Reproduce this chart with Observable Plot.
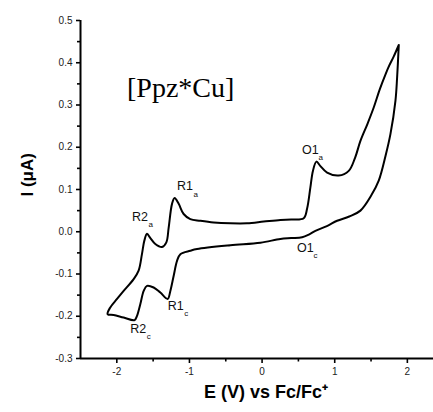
<!DOCTYPE html>
<html><head><meta charset="utf-8">
<script src="https://cdn.jsdelivr.net/npm/d3@7"></script>
<script src="https://cdn.jsdelivr.net/npm/@observablehq/plot@0.6"></script>
<style>html,body{margin:0;padding:0;background:#fff} svg{display:block}</style>
</head><body><div id="chart"></div>
<script>
// Cyclic voltammogram loop (E in V vs Fc/Fc+, I in µA), traced in scan order
const potential = [
  1.882, 1.859, 1.836, 1.767, 1.70, 1.606, 1.50, 1.354, 1.20, 1.033, 0.90, 0.734, 0.65, 0.551, 0.40, 0.252, -0.023, -0.437, -0.895, -0.988, -1.125, -1.171, -1.217, -1.263, -1.300, -1.401, -1.493, -1.584, -1.630, -1.676, -1.722, -1.755, -1.906, -2.044, -2.127,
  -2.090, -1.997, -1.906, -1.768, -1.700, -1.654, -1.621, -1.584, -1.538, -1.470, -1.377, -1.318, -1.286, -1.240, -1.204, -1.148, -1.080, -0.988, -0.850, -0.667, -0.437, -0.207, 0.022, 0.252, 0.40, 0.573, 0.62, 0.665, 0.70, 0.748, 0.80, 0.895, 1.055, 1.193, 1.28, 1.354, 1.45, 1.537, 1.62, 1.698, 1.75, 1.813, 1.882
];
const current = [
  0.442, 0.365, 0.310, 0.231, 0.180, 0.121, 0.085, 0.050, 0.036, 0.026, 0.014, 0.002, -0.006, -0.013, -0.015, -0.017, -0.026, -0.032, -0.041, -0.045, -0.053, -0.069, -0.104, -0.140, -0.159, -0.144, -0.132, -0.128, -0.140, -0.171, -0.199, -0.209, -0.203, -0.197, -0.195,
  -0.179, -0.159, -0.140, -0.112, -0.092, -0.053, -0.021, -0.005, -0.015, -0.029, -0.036, -0.025, 0.010, 0.066, 0.080, 0.066, 0.042, 0.030, 0.026, 0.022, 0.020, 0.020, 0.024, 0.028, 0.029, 0.032, 0.055, 0.105, 0.144, 0.166, 0.156, 0.140, 0.133, 0.144, 0.175, 0.215, 0.255, 0.294, 0.337, 0.372, 0.393, 0.415, 0.442
];

// Peak annotations
const peakNames = ["R1", "R2", "R2", "R1", "O1", "O1"];
const peakSubs  = ["a", "a", "c", "c", "a", "c"];
const peakE = [-1.171, -1.791, -1.814, -1.300, 0.551, 0.482];
const peakI = [0.108, 0.036, -0.230, -0.175, 0.194, -0.038];

const compound = ["[Ppz*Cu]"];
const compoundE = [-1.860];
const compoundI = [0.339];

const xTicks = [-2, -1, 0, 1, 2];
const xMinorTicks = [-1.5, -0.5, 0.5, 1.5];
const yTicks = [-0.3, -0.2, -0.1, 0.0, 0.1, 0.2, 0.3, 0.4, 0.5];
const yMinorTicks = [-0.25, -0.15, -0.05, 0.05, 0.15, 0.25, 0.35, 0.45];
const xDomain = [-2.5, 2.36];
const yDomain = [-0.3, 0.5];
const xTitle = "E (V) vs Fc/Fc\u207A";
const yTitle = "I (\u03BCA)";

const data = potential.map((E, i) => ({E, I: current[i]}));
const labels = peakNames.map((name, i) => ({name, sub: peakSubs[i], E: peakE[i], I: peakI[i]}));
const comp = compound.map((t, i) => ({t, E: compoundE[i], I: compoundI[i]}));

const plot = Plot.plot({
  width: 433, height: 412,
  marginLeft: 80, marginTop: 20, marginBottom: 54, marginRight: 0,
  style: {fontFamily: "'Liberation Sans', Arial, sans-serif", background: "#fff", color: "#000", fontSize: "10px"},
  x: {domain: xDomain},
  y: {domain: yDomain},
  marks: [
    Plot.axisX({ticks: xTicks, tickSize: 5, tickPadding: 4, tickFormat: d => String(d), fontSize: 10, fill: "#222", strokeWidth: 1.6, label: null}),
    Plot.axisX({ticks: xMinorTicks, tickSize: 3.5, tickFormat: () => "", strokeWidth: 1.6, label: null}),
    Plot.axisY({ticks: yTicks, tickSize: 4, tickPadding: 4, tickFormat: d => d.toFixed(1), fontSize: 10, fill: "#222", strokeWidth: 1.6, label: null}),
    Plot.axisY({ticks: yMinorTicks, tickSize: 3, tickFormat: () => "", strokeWidth: 1.6, label: null}),
    Plot.ruleX([xDomain[0]], {strokeWidth: 2, stroke: "#000"}),
    Plot.ruleY([yDomain[0]], {strokeWidth: 2, stroke: "#000"}),
    Plot.line(data, {x: "E", y: "I", curve: "catmull-rom", strokeWidth: 2, stroke: "#000"}),
    Plot.text(labels, {x: "E", y: "I", text: "name", textAnchor: "start", fontSize: 12.5, fill: "#111"}),
    Plot.text(labels, {x: "E", y: "I", text: "sub", textAnchor: "start", fontSize: 8, dx: 16.5, dy: 8, fill: "#111"}),
    Plot.text(comp, {x: "E", y: "I", text: "t", textAnchor: "start", fontSize: 28, fontFamily: "'Liberation Serif', 'DejaVu Serif', serif", fill: "#000"}),
    Plot.text([yTitle], {frameAnchor: "left", dx: -53, dy: 7, rotate: -90, fontWeight: "bold", fontSize: 17, fill: "#000"}),
    Plot.text([xTitle], {frameAnchor: "bottom", dx: 9, dy: 39, fontWeight: "bold", fontSize: 18, fill: "#000"})
  ]
});
document.getElementById("chart").appendChild(plot);
</script>
</body></html>
